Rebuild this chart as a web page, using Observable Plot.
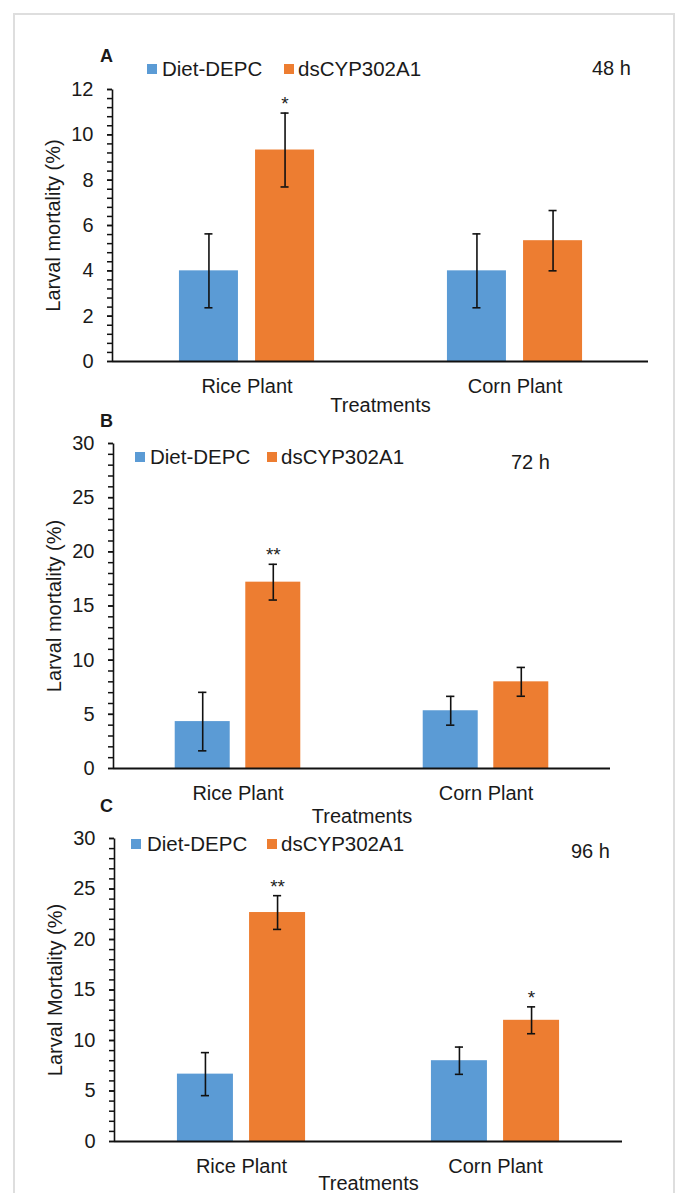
<!DOCTYPE html>
<html><head><meta charset="utf-8">
<script src="https://cdn.jsdelivr.net/npm/d3@7"></script>
<script src="https://cdn.jsdelivr.net/npm/@observablehq/plot@0.6"></script>
<style>
body{margin:0;background:#fff;font-family:"Liberation Sans",Arial,sans-serif;}
#page{position:relative;width:676px;height:1193px;overflow:hidden;background:#fff;}
#border{position:absolute;left:13px;top:13px;width:662px;height:1300px;border:2px solid #dedede;box-sizing:border-box;}
.t{position:absolute;white-space:nowrap;line-height:1.117em;color:#1a1a1a;}
.sq{position:absolute;width:10px;height:10px;}
.psvg{position:absolute;left:0;}
</style></head><body><div id="page"><div id="border"></div></div>
<script>
// ---- data ----
const plants = ["Rice Plant", "Corn Plant"];
const series = ["Diet-DEPC", "dsCYP302A1"];
const seriesColors = ["#5B9BD5", "#ED7D31"];

const diet48 = [4.0, 4.0];
const dietErr48 = [1.63, 1.63];
const ds48 = [9.33, 5.33];
const dsErr48 = [1.63, 1.33];
const dsSig48 = ["*", ""];

const diet72 = [4.33, 5.33];
const dietErr72 = [2.7, 1.33];
const ds72 = [17.2, 8.0];
const dsErr72 = [1.65, 1.33];
const dsSig72 = ["**", ""];

const diet96 = [6.67, 8.0];
const dietErr96 = [2.13, 1.35];
const ds96 = [22.67, 12.0];
const dsErr96 = [1.67, 1.33];
const dsSig96 = ["**", "*"];

const panelLetters = ["A", "B", "C"];
const hourLabels = ["48 h", "72 h", "96 h"];
const yLabels = ["Larval mortality (%)", "Larval mortality (%)", "Larval Mortality (%)"];
const xLabel = "Treatments";
const yMax = [12, 30, 30];
const yMajor = [2, 5, 5];

// ---- layout ----
const layouts = [
  {top: 0, height: 420, ml: 112, mr: 28, mt: 89, mb: 59, labelOffY: 67, labelOffX: 50,
   letter: [100, 62.5], legend: [[147, 162], [284, 298]], legendBase: 77, hour: [592, 75]},
  {top: 415, height: 410, ml: 113, mr: 66, mt: 28, mb: 57, labelOffY: 67, labelOffX: 54,
   letter: [100, 427], legend: [[135, 150], [267, 281]], legendBase: 465, hour: [511, 469]},
  {top: 800, height: 393, ml: 114, mr: 54, mt: 38, mb: 52, labelOffY: 67, labelOffX: 48,
   letter: [100, 812], legend: [[131, 147], [267, 281]], legendBase: 852, hour: [571, 858]}
];

const page = document.getElementById("page");
const FONT = "Liberation Sans, Arial, sans-serif";

function addText(x, baseline, fs, content, weight) {
  const d = document.createElement("div");
  d.className = "t";
  d.style.fontSize = fs + "px";
  d.style.left = x + "px";
  d.style.top = (baseline - 0.905 * fs) + "px";
  if (weight) d.style.fontWeight = weight;
  d.textContent = content;
  page.appendChild(d);
}

function makePanel(i, diet, dietErr, ds, dsErr, dsSig) {
  const L = layouts[i];
  const rows = [];
  plants.forEach((p, j) => {
    rows.push({plant: p, series: series[0], value: diet[j], err: dietErr[j], sig: ""});
    rows.push({plant: p, series: series[1], value: ds[j], err: dsErr[j], sig: dsSig[j]});
  });
  const W = 676;
  const innerW = W - L.ml - L.mr;
  const innerH = L.height - L.mt - L.mb;
  const pi = 0.78, po = 0.39;
  const step = innerW / (2 - pi + 2 * po);
  const bw = step * (1 - pi);
  const off = 0.142 * step;
  const capInset = (bw - 8) / 2;
  const major = d3.range(0, yMax[i] + 1e-9, yMajor[i]);
  const minor = d3.range(0, yMax[i] + 1e-9, yMajor[i] / 5);

  const marks = [];
  series.forEach((s, k) => {
    const d = rows.filter(r => r.series === s);
    const dx = k === 0 ? -off : off;
    marks.push(Plot.barY(d, {x: "plant", y: "value", fill: seriesColors[k], dx}));
  });
  // left axis line: frame with only its left side stroked
  marks.push(Plot.frame({stroke: "#111", strokeWidth: 1.6, fill: "none",
    strokeDasharray: `0 ${2 * innerW + innerH} ${innerH + 2}`}));
  marks.push(Plot.ruleY([0], {stroke: "#111", strokeWidth: 2}));
  series.forEach((s, k) => {
    const d = rows.filter(r => r.series === s);
    const dx = k === 0 ? -off : off;
    marks.push(Plot.ruleX(d, {x: "plant", y1: r => r.value - r.err, y2: r => r.value + r.err, dx, stroke: "#111", strokeWidth: 1.6}));
    marks.push(Plot.tickY(d, {x: "plant", y: r => r.value + r.err, dx, insetLeft: capInset, insetRight: capInset, stroke: "#111", strokeWidth: 1.6}));
    marks.push(Plot.tickY(d, {x: "plant", y: r => r.value - r.err, dx, insetLeft: capInset, insetRight: capInset, stroke: "#111", strokeWidth: 1.6}));
    marks.push(Plot.text(d, {x: "plant", y: r => r.value + r.err, text: "sig", dx, dy: -9, fontSize: 19, fill: "#222"}));
  });
  marks.push(Plot.axisY(minor, {tickSize: 5, tickFormat: () => "", label: null, stroke: "#111", strokeWidth: 1.5}));
  marks.push(Plot.axisY(major, {tickSize: 5, tickPadding: 14, label: yLabels[i], labelAnchor: "center", labelArrow: "none",
    labelOffset: L.labelOffY, stroke: "#111", strokeWidth: 1.5, fontSize: 20}));
  marks.push(Plot.axisX({tickSize: 0, tickPadding: 17, label: xLabel, labelAnchor: "center", labelArrow: "none",
    labelOffset: L.labelOffX, fontSize: 20}));

  const svg = Plot.plot({
    width: W, height: L.height,
    marginLeft: L.ml, marginRight: L.mr, marginTop: L.mt, marginBottom: L.mb,
    style: {background: "transparent", fontFamily: FONT, fontSize: "20px", color: "#1a1a1a", overflow: "visible"},
    x: {domain: plants, paddingInner: pi, paddingOuter: po},
    y: {domain: [0, yMax[i]]},
    marks
  });
  svg.classList.add("psvg");
  svg.style.top = L.top + "px";
  svg.style.position = "absolute";
  svg.style.left = "0px";
  page.appendChild(svg);

  // panel letter, legend, hour label
  addText(L.letter[0], L.letter[1], 18, panelLetters[i], "bold");
  series.forEach((s, k) => {
    const sq = document.createElement("div");
    sq.className = "sq";
    sq.style.background = seriesColors[k];
    sq.style.left = L.legend[k][0] + "px";
    sq.style.top = (L.legendBase - 13) + "px";
    page.appendChild(sq);
    addText(L.legend[k][1], L.legendBase, 20.5, s);
  });
  addText(L.hour[0], L.hour[1], 20, hourLabels[i]);
}

makePanel(0, diet48, dietErr48, ds48, dsErr48, dsSig48);
makePanel(1, diet72, dietErr72, ds72, dsErr72, dsSig72);
makePanel(2, diet96, dietErr96, ds96, dsErr96, dsSig96);
</script>
</body></html>
